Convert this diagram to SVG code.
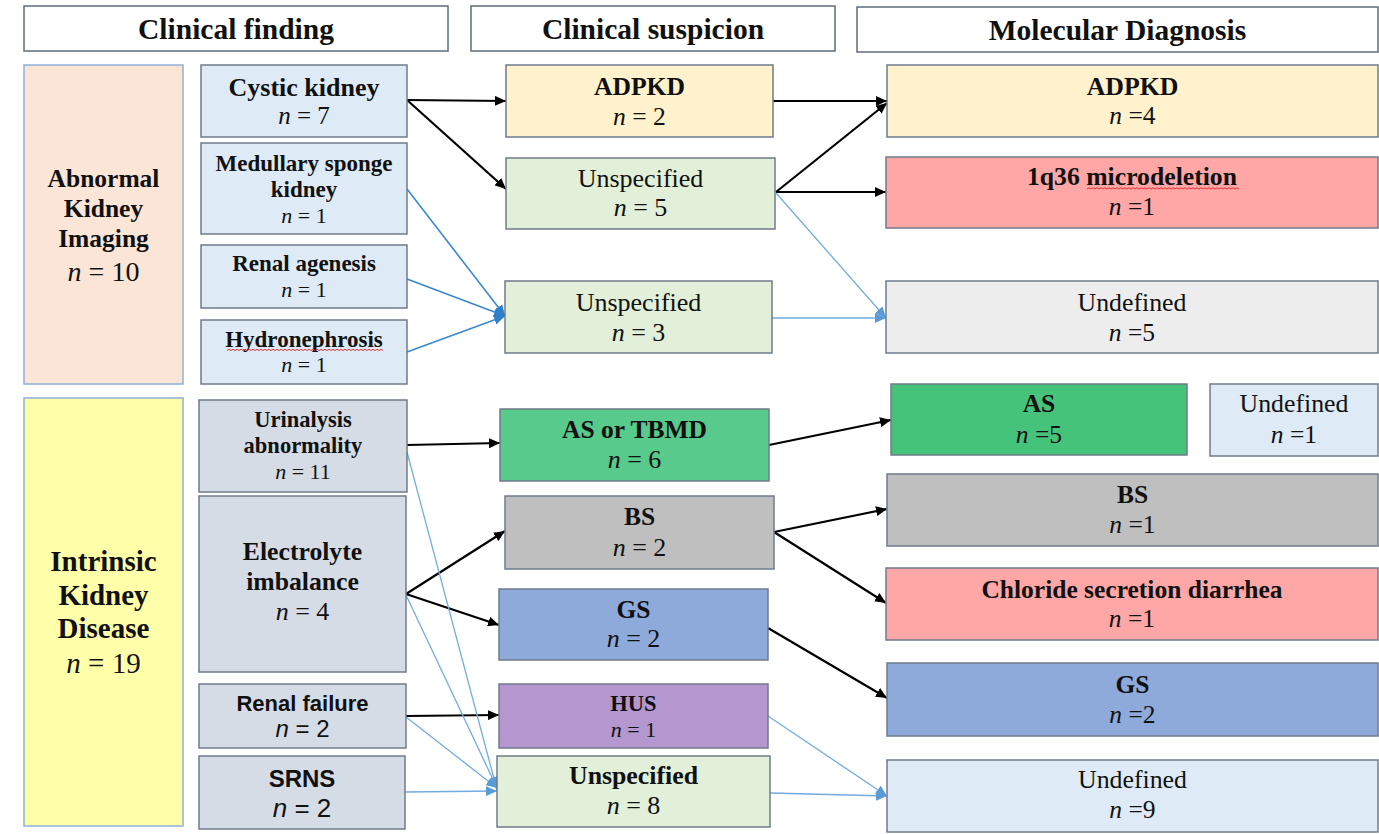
<svg xmlns="http://www.w3.org/2000/svg" width="1379" height="834" viewBox="0 0 1379 834">
<defs>
<style>
.box{stroke:#6f7b8b;stroke-width:1.5}
.hdr{fill:#fff;stroke:#5f6b7a;stroke-width:1.5}
.big{stroke:#8fb0d9;stroke-width:1.5}
text{font-family:"Liberation Serif","Times New Roman",serif;text-anchor:middle;fill:#111}
.b{font-weight:bold}
.s{font-family:"Liberation Sans",Arial,sans-serif}
.i{font-style:italic}
.k{stroke:#000;stroke-width:2.2;fill:none;marker-end:url(#ak)}
.bl{stroke:#3a88d0;stroke-width:1.6;fill:none;marker-end:url(#ab)}
.lb{stroke:#72acdf;stroke-width:1.3;fill:none;marker-end:url(#alb)}
.sq{stroke:#e02020;stroke-width:0.9;fill:none}
</style>
<marker id="ak" markerUnits="userSpaceOnUse" markerWidth="12" markerHeight="10" refX="11" refY="5" orient="auto"><path d="M0,0 L11,5 L0,10 Z" fill="#000"/></marker>
<marker id="ab" markerUnits="userSpaceOnUse" markerWidth="12" markerHeight="10" refX="11" refY="5" orient="auto"><path d="M0,0 L11,5 L0,10 Z" fill="#2f7fcb"/></marker>
<marker id="alb" markerUnits="userSpaceOnUse" markerWidth="12" markerHeight="10" refX="11" refY="5" orient="auto"><path d="M0,0 L11,5 L0,10 Z" fill="#5b9bd5"/></marker>
</defs>
<rect width="1379" height="834" fill="#fff"/>

<g id="connectors">
<path class="k" d="M407,100 L506,101"/>
<path class="k" d="M407,100 L506,189"/>
<path class="k" d="M773,101 L887,101"/>
<path class="k" d="M776,192 L887,103"/>
<path class="k" d="M776,192 L886,192"/>
<path class="lb" d="M776,193 L886,318"/>
<path class="lb" d="M772,318 L886,318"/>
<path class="bl" d="M407,189 L505,316"/>
<path class="bl" d="M407,279 L505,316"/>
<path class="bl" d="M407,352 L505,316"/>
<path class="k" d="M407,445 L500,443"/>
<path class="k" d="M406,594 L505,531"/>
<path class="k" d="M406,594 L499,625"/>
<path class="k" d="M406,716 L499,715"/>
<path class="lb" d="M407,452 L497,790"/>
<path class="lb" d="M406,595 L497,788"/>
<path class="lb" d="M406,717 L497,788"/>
<path class="lb" d="M405,792 L497,791"/>
<path class="k" d="M769,445 L891,420"/>
<path class="k" d="M774,532 L887,509"/>
<path class="k" d="M774,532 L886,603"/>
<path class="k" d="M768,628 L887,698"/>
<path class="lb" d="M768,716 L887,796"/>
<path class="lb" d="M770,793 L887,796"/>
</g>

<g id="h-finding"><rect class="hdr" x="24" y="6" width="424" height="45"/><text class="b" x="236" y="39" font-size="29.5">Clinical finding</text></g>
<g id="h-suspicion"><rect class="hdr" x="471" y="6" width="364" height="45"/><text class="b" x="653" y="39" font-size="29.5">Clinical suspicion</text></g>
<g id="h-molecular"><rect class="hdr" x="857" y="7" width="521" height="45"/><text class="b" x="1117.5" y="40" font-size="29.5">Molecular Diagnosis</text></g>

<g id="abnormal-imaging"><rect class="big" x="24" y="65" width="159" height="319" fill="#fbe5d6"/>
<text class="b" x="103.5" y="187" font-size="25.5">Abnormal</text>
<text class="b" x="103.5" y="217" font-size="25.5">Kidney</text>
<text class="b" x="103.5" y="247" font-size="25.5">Imaging</text>
<text x="103.5" y="281" font-size="28"><tspan class="i">n</tspan> = 10</text></g>

<g id="intrinsic-disease"><rect class="big" x="24" y="398" width="159" height="428" fill="#ffffaa"/>
<text class="b" x="103.5" y="571" font-size="29">Intrinsic</text>
<text class="b" x="103.5" y="605" font-size="29">Kidney</text>
<text class="b" x="103.5" y="638" font-size="29">Disease</text>
<text x="103.5" y="673" font-size="29"><tspan class="i">n</tspan> = 19</text></g>

<g id="f-cystic"><rect class="box" x="201" y="65" width="206" height="72" fill="#deebf7"/>
<text class="b" x="304" y="96" font-size="26">Cystic kidney</text>
<text x="304" y="124" font-size="25"><tspan class="i">n</tspan> = 7</text></g>

<g id="f-medullary"><rect class="box" x="201" y="143" width="206" height="91" fill="#deebf7"/>
<text class="b" x="304" y="171" font-size="23">Medullary sponge</text>
<text class="b" x="304" y="197" font-size="23">kidney</text>
<text x="304" y="223" font-size="22"><tspan class="i">n</tspan> = 1</text></g>

<g id="f-agenesis"><rect class="box" x="201" y="245" width="206" height="63" fill="#deebf7"/>
<text class="b" x="304" y="271" font-size="23">Renal agenesis</text>
<text x="304" y="297" font-size="22"><tspan class="i">n</tspan> = 1</text></g>

<g id="f-hydro"><rect class="box" x="201" y="320" width="206" height="64" fill="#deebf7"/>
<text class="b" x="304" y="347" font-size="23">Hydronephrosis</text>
<path class="sq" d="M227,350.5 l2,-1.2 l2,1.2 l2,-1.2 l2,1.2 l2,-1.2 l2,1.2 l2,-1.2 l2,1.2 l2,-1.2 l2,1.2 l2,-1.2 l2,1.2 l2,-1.2 l2,1.2 l2,-1.2 l2,1.2 l2,-1.2 l2,1.2 l2,-1.2 l2,1.2 l2,-1.2 l2,1.2 l2,-1.2 l2,1.2 l2,-1.2 l2,1.2 l2,-1.2 l2,1.2 l2,-1.2 l2,1.2 l2,-1.2 l2,1.2 l2,-1.2 l2,1.2 l2,-1.2 l2,1.2 l2,-1.2 l2,1.2 l2,-1.2 l2,1.2 l2,-1.2 l2,1.2 l2,-1.2 l2,1.2 l2,-1.2 l2,1.2 l2,-1.2 l2,1.2 l2,-1.2 l2,1.2 l2,-1.2 l2,1.2 l2,-1.2 l2,1.2 l2,-1.2 l2,1.2 l2,-1.2 l2,1.2 l2,-1.2 l2,1.2 l2,-1.2 l2,1.2 l2,-1.2 l2,1.2 l2,-1.2 l2,1.2 l2,-1.2 l2,1.2 l2,-1.2 l2,1.2 l2,-1.2 l2,1.2 l2,-1.2 l2,1.2 l2,-1.2 l2,1.2 l2,-1.2 l2,1.2"/>
<text x="304" y="372" font-size="22"><tspan class="i">n</tspan> = 1</text></g>

<g id="f-urinalysis"><rect class="box" x="199" y="400" width="208" height="92" fill="#d6dce5"/>
<text class="b" x="303" y="427" font-size="22.5">Urinalysis</text>
<text class="b" x="303" y="453" font-size="22.5">abnormality</text>
<text x="303" y="479" font-size="22"><tspan class="i">n</tspan> = 11</text></g>

<g id="f-electrolyte"><rect class="box" x="199" y="496" width="207" height="176" fill="#d6dce5"/>
<text class="b" x="302.5" y="560" font-size="25.7">Electrolyte</text>
<text class="b" x="302.5" y="590" font-size="25.7">imbalance</text>
<text x="302.5" y="620" font-size="26"><tspan class="i">n</tspan> = 4</text></g>

<g id="f-renalfailure"><rect class="box" x="199" y="684" width="207" height="64" fill="#d6dce5"/>
<text class="s b" x="302.5" y="711" font-size="22">Renal failure</text>
<text class="s" x="302.5" y="737" font-size="24"><tspan class="i">n</tspan> = 2</text></g>

<g id="f-srns"><rect class="box" x="199" y="756" width="206" height="73" fill="#d6dce5"/>
<text class="s b" x="302" y="787" font-size="24">SRNS</text>
<text class="s" x="302" y="817" font-size="26"><tspan class="i">n</tspan> = 2</text></g>

<g id="s-adpkd"><rect class="box" x="506" y="65" width="267" height="72" fill="#fff2cc"/>
<text class="b" x="639.5" y="95" font-size="25.6">ADPKD</text>
<text x="639.5" y="125" font-size="25.6"><tspan class="i">n</tspan> = 2</text></g>

<g id="s-unspec5"><rect class="box" x="506" y="158" width="269" height="71" fill="#e2f0d9"/>
<text x="640.5" y="187" font-size="26">Unspecified</text>
<text x="640.5" y="216" font-size="26"><tspan class="i">n</tspan> = 5</text></g>

<g id="s-unspec3"><rect class="box" x="505" y="281" width="267" height="72" fill="#e2f0d9"/>
<text x="638.5" y="311" font-size="26">Unspecified</text>
<text x="638.5" y="341" font-size="26"><tspan class="i">n</tspan> = 3</text></g>

<g id="s-astbmd"><rect class="box" x="500" y="409" width="269" height="72" fill="#58ca8b"/>
<text class="b" x="634.5" y="438" font-size="25.5">AS or TBMD</text>
<text x="634.5" y="468" font-size="26"><tspan class="i">n</tspan> = 6</text></g>

<g id="s-bs"><rect class="box" x="505" y="496" width="269" height="73" fill="#bfbfbf"/>
<text class="b" x="639.5" y="525" font-size="25.5">BS</text>
<text x="639.5" y="556" font-size="26"><tspan class="i">n</tspan> = 2</text></g>

<g id="s-gs"><rect class="box" x="499" y="589" width="269" height="71" fill="#8eaadb"/>
<text class="b" x="633.5" y="618" font-size="25.5">GS</text>
<text x="633.5" y="647" font-size="26"><tspan class="i">n</tspan> = 2</text></g>

<g id="s-hus"><rect class="box" x="499" y="684" width="269" height="64" fill="#b497cf"/>
<text class="b" x="633.5" y="711" font-size="22.5">HUS</text>
<text x="633.5" y="737" font-size="22"><tspan class="i">n</tspan> = 1</text></g>

<g id="s-unspec8"><rect class="box" x="497" y="756" width="273" height="71" fill="#e2f0d9"/>
<text class="b" x="633.5" y="784" font-size="25.8">Unspecified</text>
<text x="633.5" y="814" font-size="26"><tspan class="i">n</tspan> = 8</text></g>

<g id="m-adpkd"><rect class="box" x="887" y="65" width="491" height="72" fill="#fff2cc"/>
<text class="b" x="1132.5" y="95" font-size="25.8">ADPKD</text>
<text x="1132.5" y="124" font-size="25.5"><tspan class="i">n</tspan> =4</text></g>

<g id="m-1q36"><rect class="box" x="886" y="157" width="492" height="71" fill="#ffa7a7"/>
<text class="b" x="1132" y="185" font-size="25.7">1q36 microdeletion</text>
<path class="sq" d="M1087,189 l2,-1.2 l2,1.2 l2,-1.2 l2,1.2 l2,-1.2 l2,1.2 l2,-1.2 l2,1.2 l2,-1.2 l2,1.2 l2,-1.2 l2,1.2 l2,-1.2 l2,1.2 l2,-1.2 l2,1.2 l2,-1.2 l2,1.2 l2,-1.2 l2,1.2 l2,-1.2 l2,1.2 l2,-1.2 l2,1.2 l2,-1.2 l2,1.2 l2,-1.2 l2,1.2 l2,-1.2 l2,1.2 l2,-1.2 l2,1.2 l2,-1.2 l2,1.2 l2,-1.2 l2,1.2 l2,-1.2 l2,1.2 l2,-1.2 l2,1.2 l2,-1.2 l2,1.2 l2,-1.2 l2,1.2 l2,-1.2 l2,1.2 l2,-1.2 l2,1.2 l2,-1.2 l2,1.2 l2,-1.2 l2,1.2 l2,-1.2 l2,1.2 l2,-1.2 l2,1.2 l2,-1.2 l2,1.2 l2,-1.2 l2,1.2 l2,-1.2 l2,1.2 l2,-1.2 l2,1.2 l2,-1.2 l2,1.2 l2,-1.2 l2,1.2 l2,-1.2 l2,1.2 l2,-1.2 l2,1.2 l2,-1.2 l2,1.2 l2,-1.2 l2,1.2"/>
<text x="1132" y="215" font-size="25.5"><tspan class="i">n</tspan> =1</text></g>

<g id="m-undef5"><rect class="box" x="886" y="281" width="492" height="72" fill="#ededed"/>
<text x="1132" y="311" font-size="25.8">Undefined</text>
<text x="1132" y="341" font-size="25.5"><tspan class="i">n</tspan> =5</text></g>

<g id="m-as"><rect class="box" x="891" y="384" width="296" height="71" fill="#46c37b"/>
<text class="b" x="1039" y="412" font-size="25.5">AS</text>
<text x="1039" y="443" font-size="25.5"><tspan class="i">n</tspan> =5</text></g>

<g id="m-undef1"><rect class="box" x="1210" y="384" width="168" height="72" fill="#deebf7"/>
<text x="1294" y="412" font-size="25.8">Undefined</text>
<text x="1294" y="443" font-size="25.5"><tspan class="i">n</tspan> =1</text></g>

<g id="m-bs"><rect class="box" x="887" y="474" width="491" height="72" fill="#bfbfbf"/>
<text class="b" x="1132.5" y="503" font-size="25.5">BS</text>
<text x="1132.5" y="533" font-size="25.5"><tspan class="i">n</tspan> =1</text></g>

<g id="m-chloride"><rect class="box" x="886" y="568" width="492" height="72" fill="#ffa7a7"/>
<text class="b" x="1132" y="598" font-size="25.5">Chloride secretion diarrhea</text>
<text x="1132" y="627" font-size="25.5"><tspan class="i">n</tspan> =1</text></g>

<g id="m-gs"><rect class="box" x="887" y="663" width="491" height="73" fill="#8eaadb"/>
<text class="b" x="1132.5" y="693" font-size="25.5">GS</text>
<text x="1132.5" y="723" font-size="25.5"><tspan class="i">n</tspan> =2</text></g>

<g id="m-undef9"><rect class="box" x="887" y="760" width="491" height="72" fill="#deebf7"/>
<text x="1132.5" y="788" font-size="25.8">Undefined</text>
<text x="1132.5" y="818" font-size="25.5"><tspan class="i">n</tspan> =9</text></g>
</svg>
